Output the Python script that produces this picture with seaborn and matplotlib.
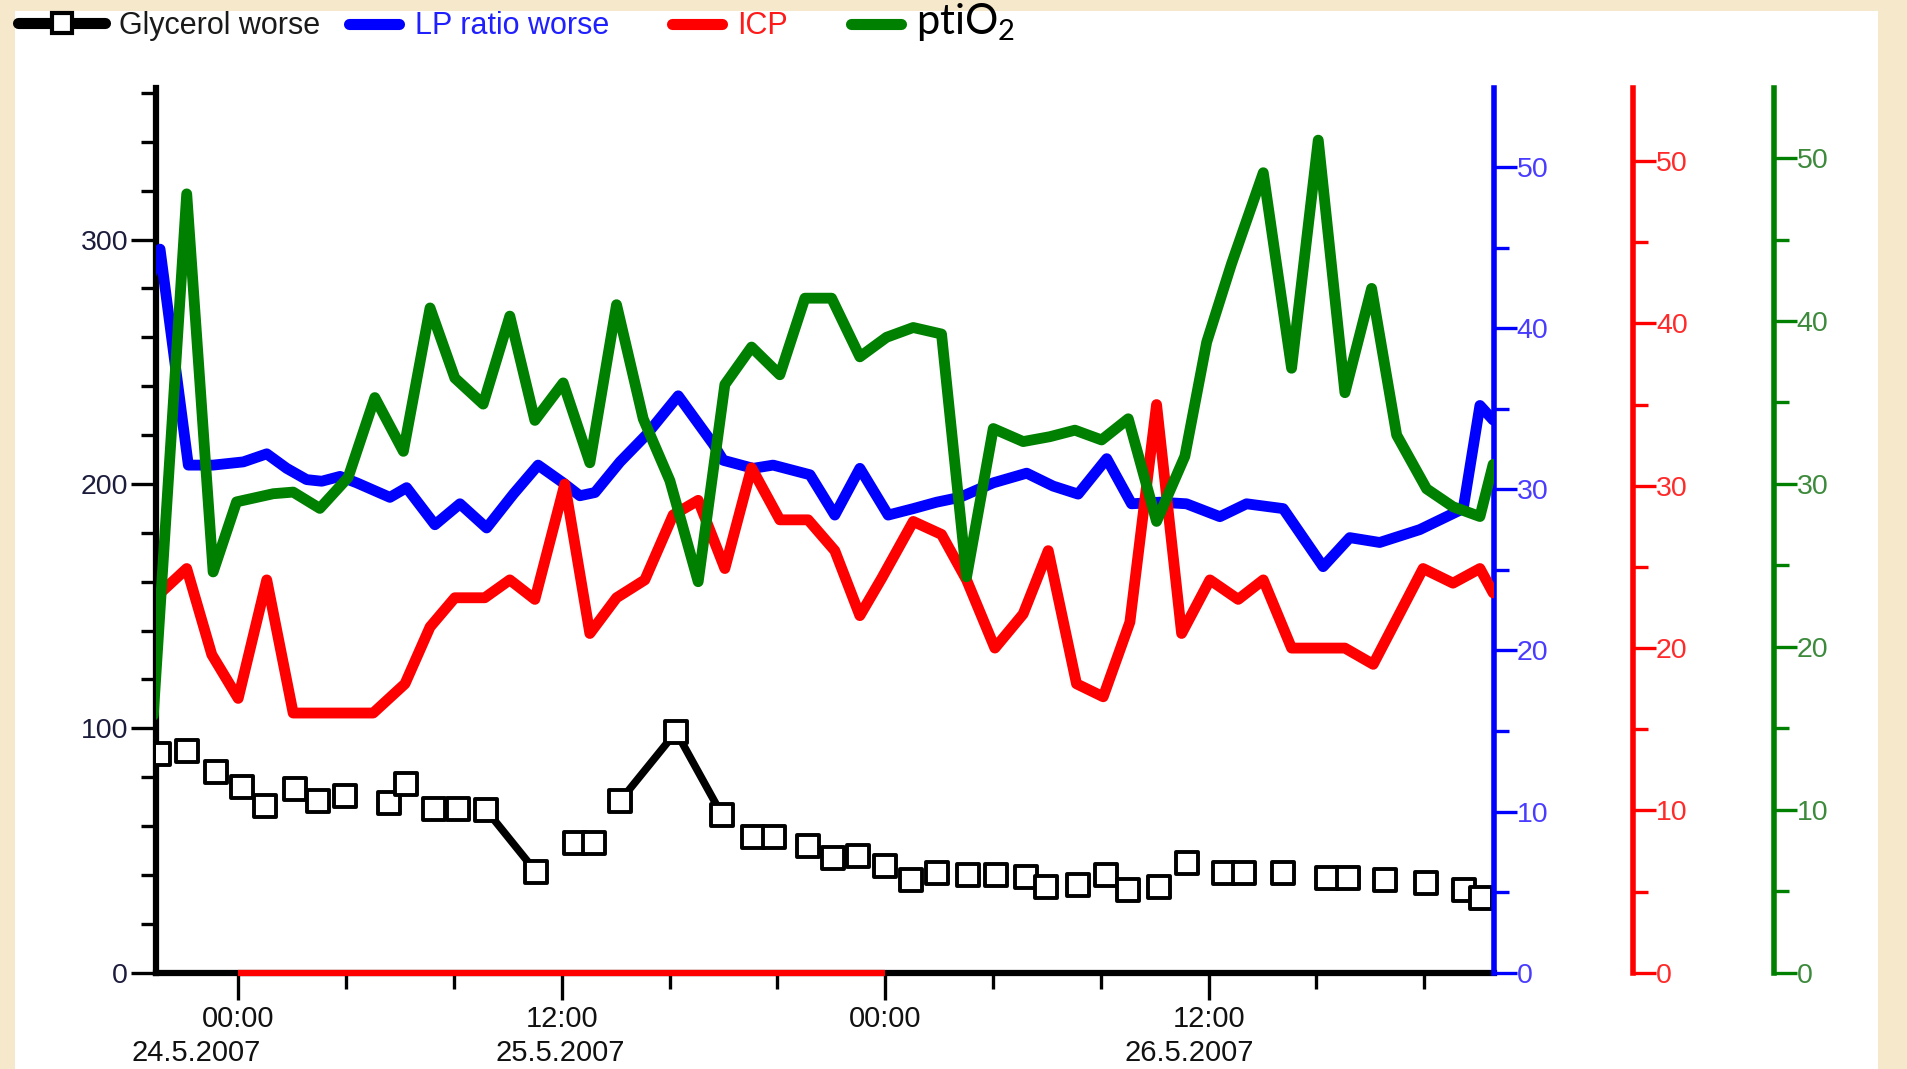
import numpy as np
import pandas as pd
import matplotlib
matplotlib.use("Agg")
import matplotlib.pyplot as plt
import matplotlib.dates as mdates
from matplotlib.ticker import MultipleLocator
from matplotlib.lines import Line2D
from matplotlib.patches import Rectangle
import seaborn as sns

# ---------------- data (hours relative to 24.5.2007 00:00) ----------------
BASE = pd.Timestamp("2007-05-24 00:00")

glycerol_hours = [-2.94, -1.90, -0.82, 0.13, 0.99, 2.11, 2.97, 3.96, 5.59, 6.22,
                  7.26, 8.16, 9.20, 11.05, 12.49, 13.21, 14.16, 16.24, 17.95, 19.08,
                  19.89, 21.15, 22.06, 23.00, 24.00, 24.95, 25.94, 27.07, 28.10, 29.23,
                  29.95, 31.17, 32.21, 33.02, 34.15, 35.19, 36.59, 37.31, 38.75, 40.38,
                  41.19, 42.54, 44.08, 45.47, 46.10]
glycerol_values = [89.5, 90.8, 82.0, 76.1, 68.3, 75.1, 70.3, 72.4, 69.6, 77.2,
                   67.2, 67.2, 66.5, 41.2, 53.2, 53.2, 70.3, 98.6, 64.5, 55.6,
                   55.6, 51.9, 47.1, 47.6, 43.8, 38.1, 40.8, 40.1, 40.1, 39.1,
                   35.1, 36.0, 40.1, 33.7, 35.3, 44.9, 40.8, 40.8, 41.0, 38.7,
                   38.7, 38.1, 36.7, 34.0, 30.6]

lp_hours = [-3.22, -2.91, -1.86, -0.94, 0.18, 1.05, 1.79, 2.53, 3.09, 3.77,
            4.39, 5.62, 6.24, 7.29, 8.22, 9.21, 10.20, 11.12, 12.05, 12.67,
            13.23, 14.16, 15.15, 16.32, 17.62, 17.99, 19.10, 19.84, 21.21, 22.13,
            23.06, 24.11, 25.04, 25.91, 26.77, 28.01, 29.25, 30.23, 31.16, 32.22,
            33.14, 34.19, 35.18, 36.42, 37.41, 38.77, 40.25, 41.24, 42.35, 43.84,
            45.45, 46.07, 46.56]
lp_values = [43.4, 44.9, 31.5, 31.5, 31.7, 32.2, 31.3, 30.6, 30.5, 30.8,
             30.4, 29.5, 30.1, 27.8, 29.1, 27.6, 29.7, 31.5, 30.4, 29.6,
             29.8, 31.7, 33.4, 35.8, 32.8, 31.8, 31.3, 31.5, 30.9, 28.4,
             31.3, 28.4, 28.8, 29.2, 29.5, 30.4, 31.0, 30.2, 29.7, 31.9,
             29.1, 29.2, 29.1, 28.3, 29.1, 28.8, 25.2, 27.0, 26.7, 27.5,
             28.8, 35.2, 34.3]

icp_hours = [-3.22, -1.92, -0.99, -0.01, 1.05, 2.03, 5.00, 6.18, 7.11, 8.03,
             9.14, 10.07, 11.00, 12.11, 13.04, 14.03, 15.08, 16.13, 17.06, 18.05,
             19.04, 20.09, 21.14, 22.13, 23.06, 23.87, 25.04, 26.09, 27.02, 28.07,
             29.12, 30.05, 31.10, 32.09, 33.08, 34.07, 35.00, 36.05, 37.10, 38.03,
             39.08, 41.06, 42.11, 43.96, 45.07, 46.07, 46.56]
icp_values = [22.9, 24.9, 19.6, 16.9, 24.2, 16.0, 16.0, 17.8, 21.3, 23.1,
              23.1, 24.2, 23.0, 30.1, 20.9, 23.1, 24.2, 28.2, 29.1, 24.9,
              31.1, 27.9, 27.9, 26.0, 22.0, 24.3, 27.8, 27.0, 24.2, 20.0,
              22.1, 26.0, 17.8, 17.0, 21.6, 35.0, 20.9, 24.2, 23.0, 24.2,
              20.0, 20.0, 19.0, 24.9, 24.0, 24.9, 23.4]

pto_hours = [-3.16, -1.92, -0.94, -0.07, 1.29, 2.03, 3.02, 4.07, 5.06, 6.12,
             7.11, 8.03, 9.08, 10.07, 11.00, 12.05, 13.04, 14.03, 15.02, 16.01,
             17.06, 18.05, 19.04, 20.09, 21.02, 22.01, 23.06, 24.05, 25.04, 26.09,
             27.02, 28.01, 29.12, 30.11, 31.04, 32.03, 33.02, 34.07, 35.12, 35.93,
             36.85, 38.03, 39.08, 40.07, 41.06, 42.05, 42.98, 44.09, 45.07, 46.07,
             46.56]
pto_values = [15.8, 47.8, 24.6, 28.9, 29.4, 29.5, 28.5, 30.4, 35.3, 32.0,
              40.8, 36.5, 34.9, 40.3, 33.9, 36.2, 31.3, 41.0, 34.0, 30.2,
              24.0, 36.1, 38.4, 36.7, 41.4, 41.4, 37.8, 39.0, 39.6, 39.2,
              24.3, 33.4, 32.6, 32.9, 33.3, 32.7, 34.0, 27.7, 31.7, 38.7,
              43.5, 49.1, 37.1, 51.1, 35.6, 42.0, 33.0, 29.7, 28.6, 28.0,
              31.2]

legend_labels = ["Glycerol worse", "LP ratio worse", "ICP", r"pti$\mathregular{O_2}$"]
date_labels = ["24.5.2007", "25.5.2007", "26.5.2007"]
date_label_hours = [-1.58, 11.93, 35.27]
highlight_hours = [0, 24]
xlim_hours = [-3.06, 46.59]
glycerol_gap_hours = 1.68   # connecting line shown only across longer gaps


def to_time(h):
    return BASE + pd.to_timedelta(np.asarray(h, dtype=float), unit="h")


glyc = pd.DataFrame({"time": to_time(glycerol_hours), "val": glycerol_values})
lp = pd.DataFrame({"time": to_time(lp_hours), "val": lp_values})
icp = pd.DataFrame({"time": to_time(icp_hours), "val": icp_values})
pto = pd.DataFrame({"time": to_time(pto_hours), "val": pto_values})

# segments of the glycerol connecting line
seg_rows = []
for i in range(len(glycerol_hours) - 1):
    if glycerol_hours[i + 1] - glycerol_hours[i] >= glycerol_gap_hours:
        for j in (i, i + 1):
            seg_rows.append({"time": to_time([glycerol_hours[j]])[0],
                             "val": glycerol_values[j], "seg": i})
glyc_seg = pd.DataFrame(seg_rows)

# ---------------- style ----------------
sns.set_theme(style="white")
plt.rcParams["font.family"] = ["Liberation Sans", "DejaVu Sans"]

BLUE, RED, GREEN = "#0000FF", "#FF0000", "#008000"
LW = 7.8

fig = plt.figure(figsize=(19.07, 10.69), dpi=100)
fig.patch.set_facecolor("#F6E8CB")
fig.patches.append(Rectangle((0.008, 0.0), 0.977, 0.99, transform=fig.transFigure,
                             facecolor="white", edgecolor="none", zorder=-1))

ax = fig.add_axes([0.0818, 0.09, 0.7016, 0.8277])
ax.set_facecolor("white")

# glycerol
sns.lineplot(data=glyc_seg, x="time", y="val", units="seg", estimator=None,
             color="black", lw=5.5, ax=ax, legend=False)
sns.scatterplot(data=glyc, x="time", y="val", ax=ax, marker="s", s=250,
                facecolor="white", edgecolor="black", linewidth=2.8, zorder=5,
                legend=False)

ax_lp = ax.twinx()
ax_icp = ax.twinx()
ax_pto = ax.twinx()

sns.lineplot(data=lp, x="time", y="val", ax=ax_lp, color=BLUE, lw=LW, legend=False)
sns.lineplot(data=icp, x="time", y="val", ax=ax_icp, color=RED, lw=LW, legend=False)
sns.lineplot(data=pto, x="time", y="val", ax=ax_pto, color=GREEN, lw=LW, legend=False)

# ---------------- host axes ----------------
ax.set_xlim(to_time([xlim_hours[0]])[0], to_time([xlim_hours[1]])[0])
ax.set_ylim(0, 362)
ax.yaxis.set_major_locator(MultipleLocator(100))
ax.yaxis.set_minor_locator(MultipleLocator(20))
ax.xaxis.set_major_locator(mdates.HourLocator(byhour=[0, 12]))
ax.xaxis.set_minor_locator(mdates.HourLocator(byhour=range(0, 24, 4)))
ax.xaxis.set_major_formatter(mdates.DateFormatter("%H:%M"))
ax.set_xlabel("")
ax.set_ylabel("")
for s in ("top", "right"):
    ax.spines[s].set_visible(False)
for s in ("left", "bottom"):
    ax.spines[s].set_color("black")
    ax.spines[s].set_linewidth(4.5)
ax.tick_params(axis="y", which="both", left=True, direction="out", color="black",
               width=2.4, labelsize=20.5, labelcolor="#1C1C3C", pad=2)
ax.tick_params(axis="y", which="major", length=18)
ax.tick_params(axis="y", which="minor", length=11)
ax.tick_params(axis="x", which="both", bottom=True, direction="out", color="black",
               width=2.4, labelsize=21, labelcolor="#111111", pad=4)
ax.tick_params(axis="x", which="major", length=19.5)
ax.tick_params(axis="x", which="minor", length=11.5)

ax.hlines(0, to_time([highlight_hours[0]])[0], to_time([highlight_hours[1]])[0],
          colors=RED, lw=4.5, zorder=6, clip_on=False)

for lab, h in zip(date_labels, date_label_hours):
    ax.text(to_time([h])[0], -0.091, lab, transform=ax.get_xaxis_transform(),
            ha="center", va="center", fontsize=21, color="#111111")

# ---------------- twin axes ----------------
twins = [(ax_lp, BLUE, "#4A3CFF", 54.9, 1.0),
         (ax_icp, RED, "#FF2A2A", 54.5, 1.104),
         (ax_pto, GREEN, "#3D8A3D", 54.3, 1.209)]
for tw, col, lcol, top, pos in twins:
    tw.set_ylim(0, top)
    tw.set_ylabel("")
    tw.set_xlabel("")
    tw.patch.set_visible(False)
    for s in ("top", "bottom", "left"):
        tw.spines[s].set_visible(False)
    tw.spines["right"].set_position(("axes", pos))
    tw.spines["right"].set_color(col)
    tw.spines["right"].set_linewidth(4.0)
    tw.yaxis.set_major_locator(MultipleLocator(10))
    tw.yaxis.set_minor_locator(MultipleLocator(5))
    tw.tick_params(axis="y", which="both", right=True, left=False, direction="out",
                   color=col, width=2.4, labelsize=20.5, labelcolor=lcol, pad=0)
    tw.tick_params(axis="y", which="major", length=16.5)
    tw.tick_params(axis="y", which="minor", length=11)

# ---------------- legend ----------------
handles = [
    Line2D([], [], color="black", lw=8, marker="s", markersize=14,
           markerfacecolor="white", markeredgecolor="black", markeredgewidth=3,
           solid_capstyle="round"),
    Line2D([], [], color=BLUE, lw=8, solid_capstyle="round"),
    Line2D([], [], color=RED, lw=8, solid_capstyle="round"),
    Line2D([], [], color=GREEN, lw=8, solid_capstyle="round"),
]
text_colors = ["#1A1A1A", "#2020FF", "#FF1A1A", "black"]

leg1 = fig.legend(handles[:1], legend_labels[:1], loc="center left",
                  bbox_to_anchor=(0.0095, 0.9755), ncol=1, frameon=False,
                  fontsize=22, handlelength=2.85, handletextpad=0.45,
                  borderaxespad=0, borderpad=0)
leg1.get_texts()[0].set_color(text_colors[0])

leg2 = fig.legend(handles[1:], legend_labels[1:], loc="center left",
                  bbox_to_anchor=(0.183, 0.979), ncol=3, frameon=False,
                  fontsize=22, handlelength=1.65, handletextpad=0.5,
                  columnspacing=2.05, borderaxespad=0, borderpad=0)
for t, c in zip(leg2.get_texts(), text_colors[1:]):
    t.set_color(c)
leg2.get_texts()[2].set_fontsize(30)
leg2.get_texts()[2].set_family(["Lato", "DejaVu Sans"])

fig.savefig("out.png", dpi=100, facecolor=fig.get_facecolor())
